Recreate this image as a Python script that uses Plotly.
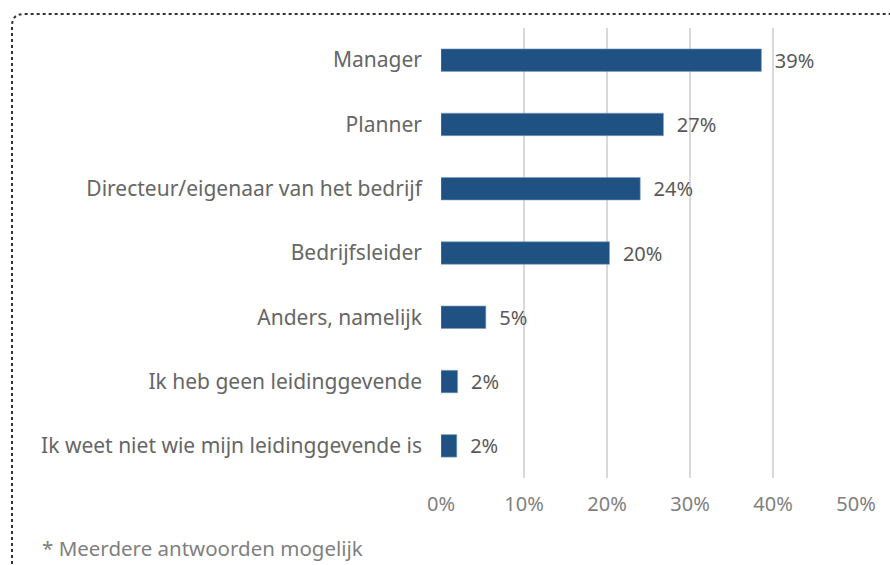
import plotly.graph_objects as go

categories = [
    "Manager",
    "Planner",
    "Directeur/eigenaar van het bedrijf",
    "Bedrijfsleider",
    "Anders, namelijk",
    "Ik heb geen leidinggevende",
    "Ik weet niet wie mijn leidinggevende is",
]
values = [38.6, 26.8, 24.0, 20.3, 5.4, 2.0, 1.9]
value_labels = ["39%", "27%", "24%", "20%", "5%", "2%", "2%"]
tick_vals = [0, 10, 20, 30, 40, 50]
tick_text = ["0%", "10%", "20%", "30%", "40%", "50%"]
footnote = "* Meerdere antwoorden mogelijk"

FONT = "Noto Sans"
FS = 21
W, H = 890, 565
L, R, T, B = 441, 34, 28, 87
pw, ph = W - L - R, H - T - B

def px(x):
    return (x - L) / pw

def py(y):
    return (H - B - y) / ph

fig = go.Figure(go.Bar(
    x=values,
    y=categories,
    orientation="h",
    width=0.35,
    marker=dict(color="#1f5282", line=dict(color="#7f9fbf", width=0.6)),
    text=value_labels,
    texttemplate="\u00a0\u00a0%{text}",
    textposition="outside",
    constraintext="none",
    textfont=dict(family=FONT, size=20, color="#595959"),
    cliponaxis=False,
))

border = (f"M {px(12)} {py(600)} L {px(12)} {py(26)} "
          f"Q {px(12)} {py(14)} {px(24)} {py(14)} L {px(920)} {py(14)}")

fig.update_layout(
    width=W, height=H,
    margin=dict(l=L, r=R, t=T, b=B),
    paper_bgcolor="white", plot_bgcolor="white",
    showlegend=False,
    font=dict(family=FONT),
    uniformtext=dict(mode=False),
    xaxis=dict(
        range=[0, 50], tickvals=tick_vals, ticktext=tick_text,
        showgrid=True, gridcolor="#d9d9d9", gridwidth=2,
        zeroline=False, showline=False,
        tickfont=dict(family=FONT, size=20, color="#7f7f7f"),
        ticklabelstandoff=12,
    ),
    yaxis=dict(
        categoryorder="array", categoryarray=categories[::-1],
        showgrid=False, zeroline=False, showline=False,
        tickfont=dict(family=FONT, size=FS, color="#666666"),
        ticklabelstandoff=18,
    ),
    shapes=[dict(
        type="path", path=border, xref="paper", yref="paper",
        line=dict(color="#333333", width=2, dash="dot"),
    )],
    annotations=[dict(
        text=footnote, xref="paper", yref="paper",
        x=px(40), y=py(548), xanchor="left", yanchor="middle",
        showarrow=False, font=dict(family=FONT, size=20.5, color="#7f7f7f"),
    )],
)

fig.write_html(
    "out.html",
    config={"displayModeBar": False},
    post_script="document.body.style.margin='0';document.body.style.overflow='hidden';",
)
